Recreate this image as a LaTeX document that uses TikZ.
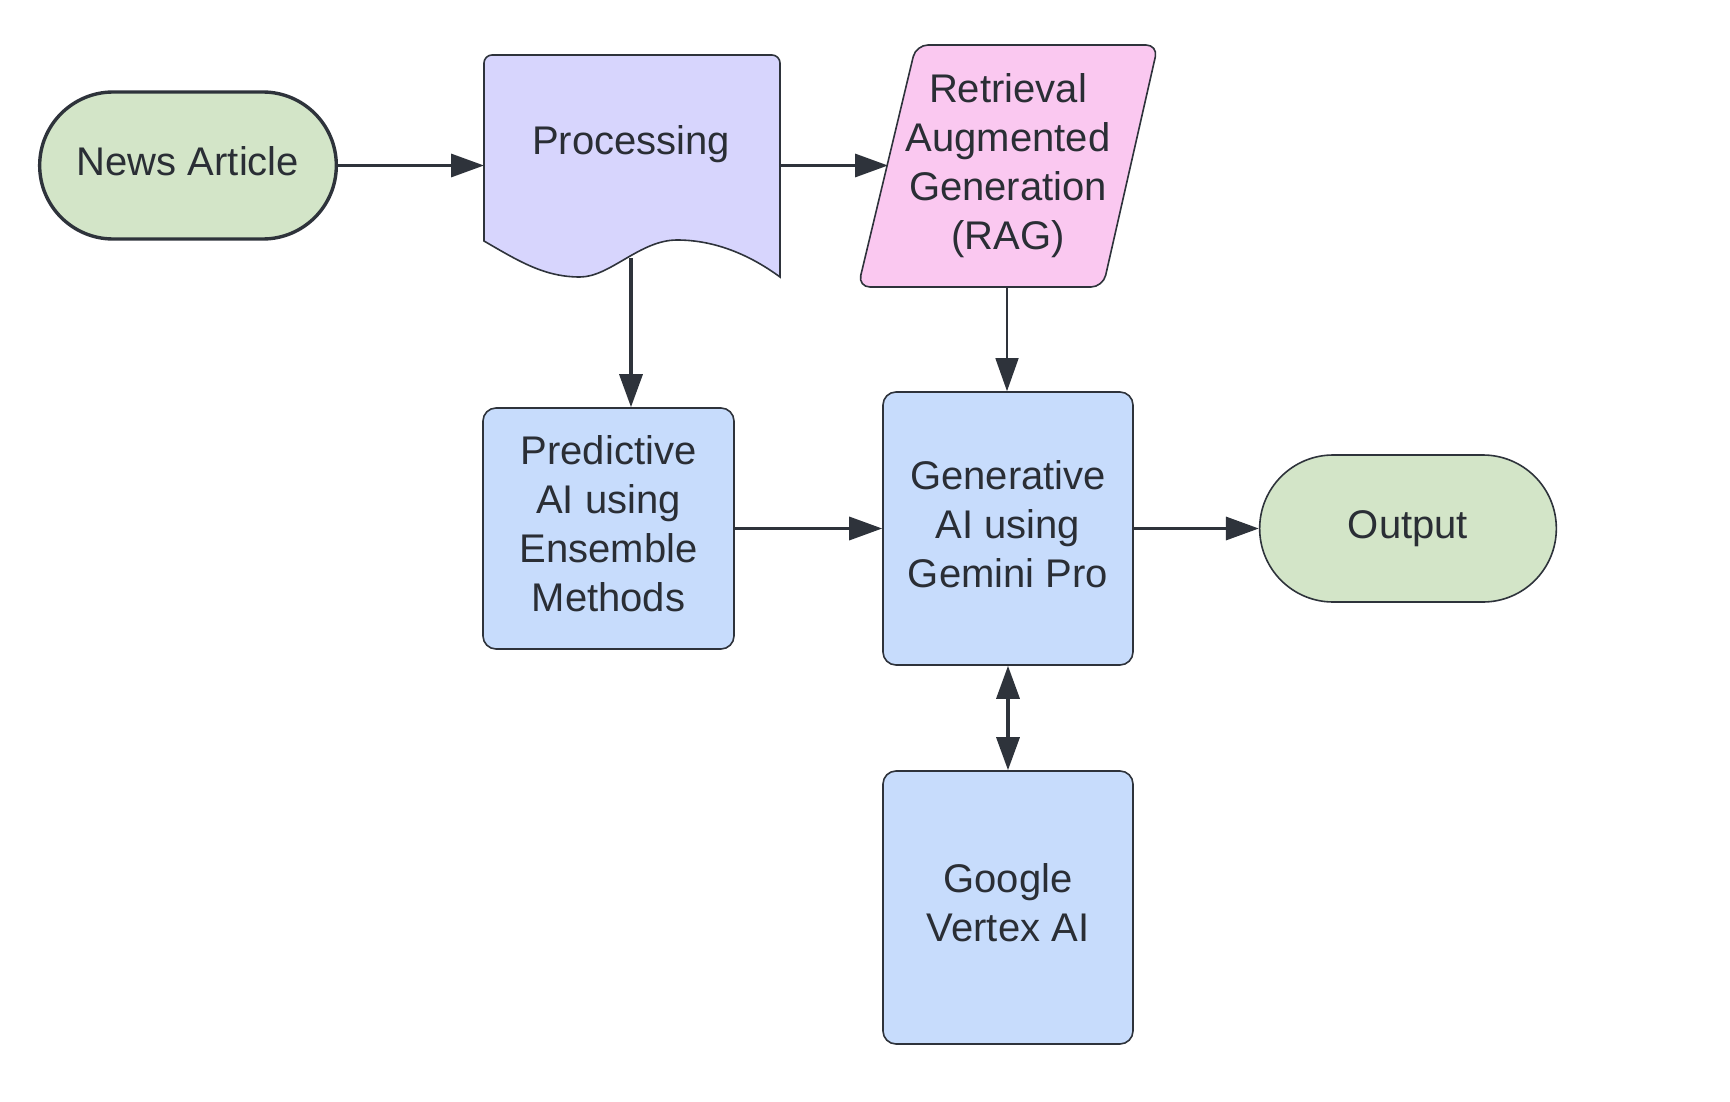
\documentclass[tikz,border=0pt]{standalone}
\usepackage{fontspec}
\setmainfont{Liberation Sans}
\usetikzlibrary{arrows.meta,shapes.misc}
\definecolor{ln}{HTML}{2E333B}
\definecolor{txt}{HTML}{2A2E35}
\definecolor{grn}{HTML}{D3E5C8}
\definecolor{prp}{HTML}{D7D5FD}
\definecolor{pnk}{HTML}{FAC8F0}
\definecolor{blu}{HTML}{C7DCFC}
\begin{document}
\begin{tikzpicture}[x=0.5pt,y=-0.5pt,
  lbl/.style={font=\fontsize{20}{24.5}\selectfont, text=txt, align=center},
  term/.style={rounded rectangle, draw=ln, fill=grn, minimum width=155pt, minimum height=73.5pt},
  procbox/.style={rectangle, rounded corners=6.5pt, draw=ln, line width=0.8pt, fill=blu, minimum width=125pt},
  tip/.tip={Triangle[length=16.5pt,width=11.5pt]},
  conn/.style={draw=ln, line width=1.7pt, -tip},
]
\useasboundingbox (0,0) rectangle (1730,1102);
% News Article
\node[term, line width=1.7pt] (news) at (188,165.5) {};
\node[lbl] (newsT) at ([yshift=2pt]news.center) {News Article};
% Processing (document shape)
\filldraw[draw=ln, line width=0.8pt, fill=prp]
  (484,241) [rounded corners=4pt] -- (484,55) -- (780,55) [sharp corners] -- (780,277)
  .. controls (750,255) and (715,240) .. (677,240)
  .. controls (640,240) and (610,277) .. (580,277)
  .. controls (545,277) and (520,262) .. (484,241) -- cycle;
\node[lbl] (proc) at (631,144) {Processing};
\coordinate (procL) at (484,165.5);
\coordinate (procR) at (780,165.5);
\coordinate (procB) at (631,258);
% RAG parallelogram
\filldraw[draw=ln, line width=0.8pt, fill=pnk, rounded corners=6pt]
  (916,45) -- (1158,45) -- (1103,287) -- (858,287) -- cycle;
\node[lbl] (rag) at (1008,165.5) {Retrieval\\Augmented\\Generation\\(RAG)};
\coordinate (ragL) at (888,165.5);
\coordinate (ragB) at (1007,287);
% Boxes
\node[procbox, minimum width=125.5pt, minimum height=120.5pt] (pred) at (608.5,528.5) {};
\node[lbl] (predT) at ([yshift=2.2pt]pred.center) {Predictive\\AI using\\Ensemble\\Methods};
\node[procbox, minimum height=136.5pt] (gen) at (1008,528.5) {};
\node[lbl] (genT) at ([yshift=2.2pt]gen.center) {Generative\\AI using\\Gemini Pro};
\node[term, line width=0.8pt] (out) at (1408,528.5) {};
\node[lbl] (outT) at (out.center) {Output};
\node[procbox, minimum height=136.5pt] (goog) at (1008,907.5) {};
\node[lbl] (googT) at ([yshift=2.2pt]goog.center) {Google\\Vertex AI};
% Connectors
\draw[conn] (news.east) -- (procL);
\draw[conn] (procR) -- (ragL);
\draw[conn] (procB) -- (procB |- pred.north);
\draw[conn, line width=0.7pt] (ragB) -- (ragB |- gen.north);
\draw[conn] (pred.east) -- (gen.west);
\draw[conn] (gen.east) -- (out.west);
\draw[conn, tip-tip] (gen.south) -- (goog.north);
\end{tikzpicture}
\end{document}
